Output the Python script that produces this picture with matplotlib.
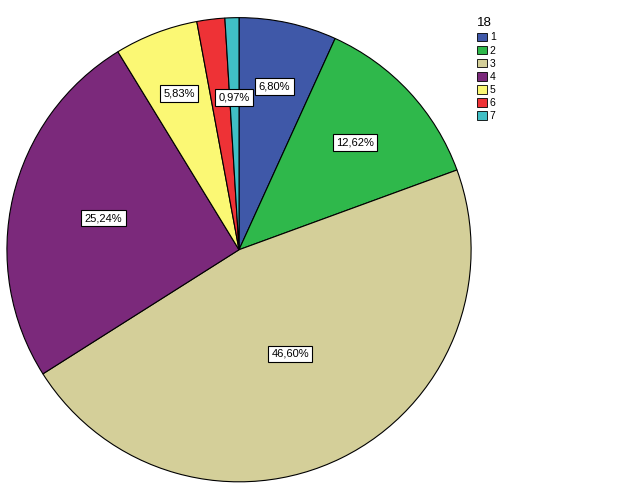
import numpy as np
import matplotlib.pyplot as plt
from matplotlib.patches import Patch

# category counts (n = 103)
categories = ['1', '2', '3', '4', '5', '6', '7']
counts = [7, 13, 48, 26, 6, 2, 1]
colors = ['#3f58a8', '#2fb84b', '#d4cf99', '#7b297b', '#fbf874', '#ee3236', '#40bfc5']
# radial place of the percent labels (fraction of radius), None = no label
label_r = [0.72, 0.68, 0.50, 0.60, 0.72, None, 0.655]

plt.rcParams['font.family'] = ['Liberation Sans', 'DejaVu Sans']

fig = plt.figure(figsize=(6.29, 5.04), dpi=100)
ax = fig.add_axes([0.011, 0.044, 0.738, 0.921])

total = sum(counts)
wedges, _ = ax.pie(counts, colors=colors, startangle=90, counterclock=False,
                   radius=1, wedgeprops=dict(edgecolor='black', linewidth=0.8))

for w, c, r in zip(wedges, counts, label_r):
    if r is None:
        continue
    mid = np.deg2rad((w.theta1 + w.theta2) / 2)
    txt = f'{100 * c / total:.2f}%'.replace('.', ',')
    ax.text(r * np.cos(mid), r * np.sin(mid), txt, ha='center', va='center',
            fontsize=8,
            bbox=dict(boxstyle='square,pad=0.3', fc='white', ec='black', lw=0.8))

ax.set_xlim(-1, 1)
ax.set_ylim(-1, 1)
ax.set_aspect('equal')
ax.axis('off')

handles = [Patch(facecolor=col, edgecolor='black', linewidth=0.6, label=lab)
           for col, lab in zip(colors, categories)]
leg = fig.legend(handles=handles, title='18', loc='upper left',
                 bbox_to_anchor=(468 / 629, 1 - 8 / 504), frameon=False,
                 fontsize=7.5, title_fontsize=9.5, handlelength=0.9, handleheight=0.9,
                 handletextpad=0.3, labelspacing=0.3, alignment='left')

fig.savefig('out.png', dpi=100)
